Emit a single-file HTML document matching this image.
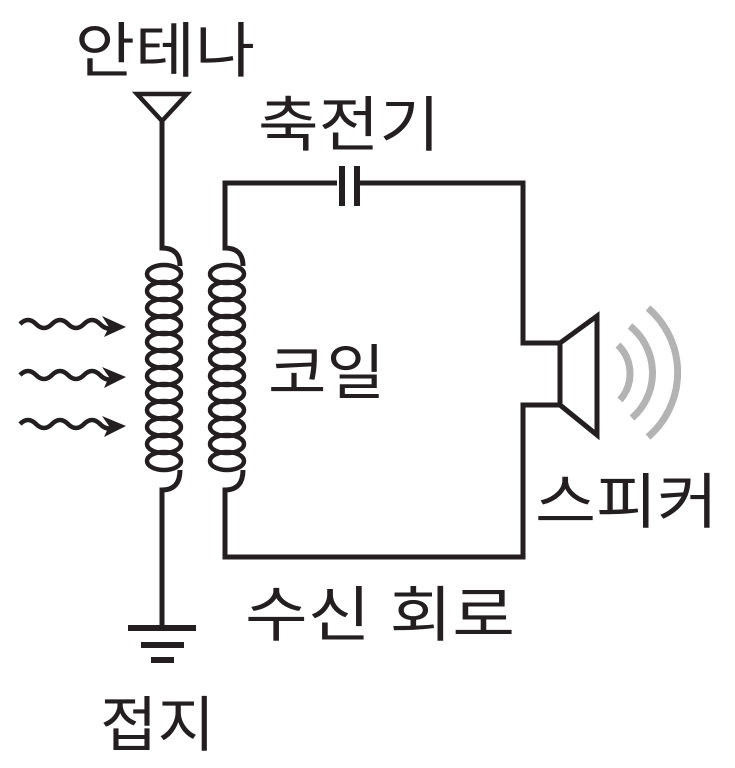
<!DOCTYPE html>
<html><head><meta charset="utf-8"><style>
html,body{margin:0;padding:0;background:#fff;}
svg{display:block}
text{font-family:"Liberation Sans","Noto Sans CJK KR",sans-serif;fill:#231f20;font-size:60px}
</style></head><body>
<svg width="735" height="768" viewBox="0 0 735 768">
<defs>
<g id="loop"><ellipse cx="0" cy="0" rx="17" ry="9" fill="none" stroke="#231f20" stroke-width="4.5"/></g>
</defs>
<g fill="none" stroke="#231f20" stroke-width="5" stroke-linejoin="miter">
<path d="M137,94 L187,94 L162,121 Z" stroke-width="4.5"/>
<path d="M162,121 V248 q18,0 18,18"/>
<path d="M180,470 q0,20 -18,20 V627"/>
<path d="M128,628 H196 M141,645 H184 M151,660 H174" stroke-width="6"/>
<path d="M337,183 H225 V248 q18,0 18,18"/>
<path d="M243,470 q0,20 -18,20 V557 H523 V405 H560 V343 H523 V183 H358"/>
<path d="M342,166 V206 M357,166 V206" stroke-width="6"/>
<path d="M560,343 L597,316 V435 L560,405 Z"/>
</g>
<g transform="translate(164,0)">
<use href="#loop" y="274"/><use href="#loop" y="291"/><use href="#loop" y="308"/><use href="#loop" y="325"/><use href="#loop" y="342"/><use href="#loop" y="359"/><use href="#loop" y="376"/><use href="#loop" y="393"/><use href="#loop" y="410"/><use href="#loop" y="427"/><use href="#loop" y="444"/><use href="#loop" y="461"/>
</g>
<g transform="translate(227,0)">
<use href="#loop" y="274"/><use href="#loop" y="291"/><use href="#loop" y="308"/><use href="#loop" y="325"/><use href="#loop" y="342"/><use href="#loop" y="359"/><use href="#loop" y="376"/><use href="#loop" y="393"/><use href="#loop" y="410"/><use href="#loop" y="427"/><use href="#loop" y="444"/><use href="#loop" y="461"/>
</g>
<g fill="none" stroke="#231f20" stroke-width="4.5">
<path d="M20,324 q8,-8 16,0 t16,0 t16,0 t16,0 t16,0 t14,2"/>
<path d="M20,375 q8,-8 16,0 t16,0 t16,0 t16,0 t16,0 t14,2"/>
<path d="M20,424 q8,-8 16,0 t16,0 t16,0 t16,0 t16,0 t14,2"/>
</g>
<g fill="#231f20">
<path d="M102,316 L126,327 L104,337 L109,327Z"/>
<path d="M102,367 L126,377 L104,388 L109,377Z"/>
<path d="M102,416 L126,426 L104,437 L109,426Z"/>
</g>
<g fill="none" stroke="#b3b3b3" stroke-width="7">
<path d="M618,345 A40,40 0 0 1 620,400"/>
<path d="M630,326 A60,60 0 0 1 632,418"/>
<path d="M648,308 A85,85 0 0 1 648,437"/>
</g>
<text x="75" y="72" textLength="180" lengthAdjust="spacingAndGlyphs">안테나</text>
<text x="258" y="146" textLength="182" lengthAdjust="spacingAndGlyphs">축전기</text>
<text x="268" y="394" textLength="117" lengthAdjust="spacingAndGlyphs">코일</text>
<text x="535" y="523" textLength="183" lengthAdjust="spacingAndGlyphs">스피커</text>
<text x="245" y="636" textLength="270" lengthAdjust="spacingAndGlyphs">수신 회로</text>
<text x="100" y="746" textLength="115" lengthAdjust="spacingAndGlyphs">접지</text>
</svg>
</body></html>
